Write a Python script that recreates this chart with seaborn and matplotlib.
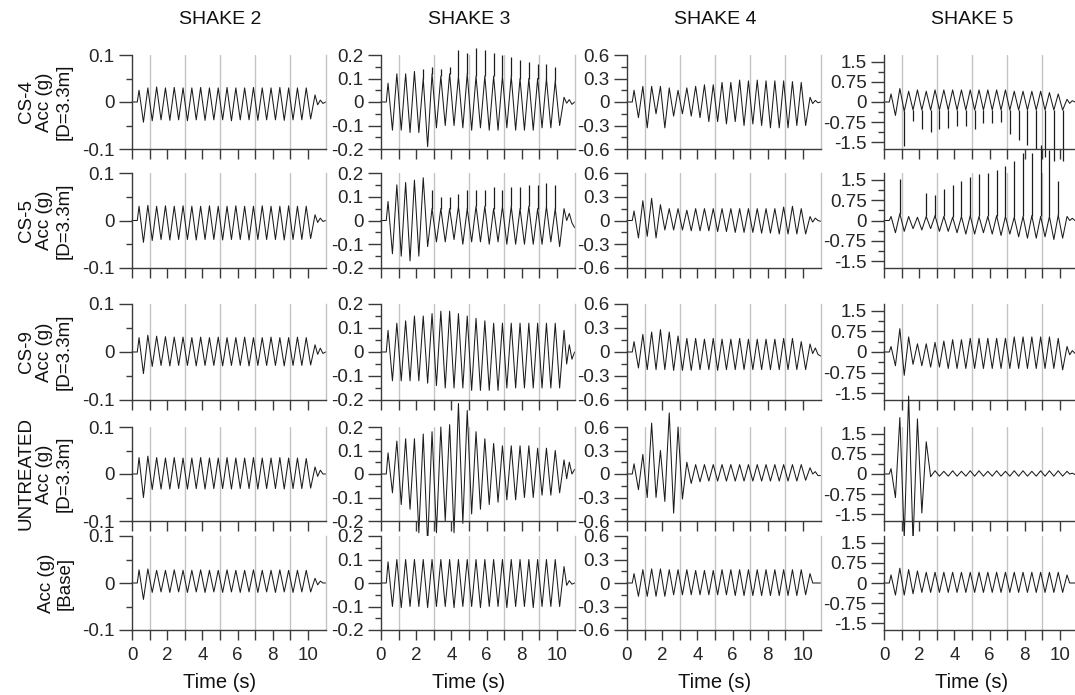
import numpy as np
import matplotlib
matplotlib.use("Agg")
import matplotlib.pyplot as plt
import matplotlib.transforms as mtransforms
from matplotlib.ticker import FixedLocator, FuncFormatter
import seaborn as sns

sns.set_theme(style="ticks")
plt.rcParams["font.family"] = ["Liberation Sans", "DejaVu Sans"]

# ---- time of each read-off point (s): onset, cycle peaks, cycle troughs, free decay
T_START = [0.0, 0.3]
T_PEAK = [0.4, 0.9, 1.4, 1.9, 2.4, 2.9, 3.4, 3.9, 4.4, 4.9,
          5.4, 5.9, 6.4, 6.9, 7.4, 7.9, 8.4, 8.9, 9.4, 9.9]
T_TROUGH = [0.65, 1.15, 1.65, 2.15, 2.65, 3.15, 3.65, 4.15, 4.65, 5.15,
            5.65, 6.15, 6.65, 7.15, 7.65, 8.15, 8.65, 9.15, 9.65, 10.15]
T_TAIL = [10.4, 10.55, 10.7, 10.85, 11.0]

# ---- CS-4 (D=3.3m)
CS4_S2_PK = [0.025, 0.030, 0.032, 0.030, 0.031, 0.030, 0.030, 0.031, 0.030, 0.030,
             0.031, 0.030, 0.030, 0.031, 0.030, 0.030, 0.031, 0.030, 0.030, 0.030]
CS4_S2_TR = [-0.043, -0.040, -0.038, -0.039, -0.038, -0.040, -0.038, -0.039, -0.038, -0.038,
             -0.040, -0.038, -0.038, -0.039, -0.038, -0.038, -0.039, -0.038, -0.038, -0.036]
CS4_S2_TL = [0.015, -0.006, 0.004, -0.003, 0.0]

CS4_S3_PK = [0.08, 0.12, 0.12, 0.13, 0.10, 0.12, 0.11, 0.12, 0.11, 0.12,
             0.11, 0.11, 0.11, 0.11, 0.11, 0.10, 0.10, 0.10, 0.10, 0.09]
CS4_S3_TR = [-0.12, -0.12, -0.13, -0.13, -0.19, -0.11, -0.10, -0.10, -0.11, -0.12,
             -0.11, -0.12, -0.12, -0.11, -0.12, -0.12, -0.12, -0.11, -0.11, -0.10]
CS4_S3_SP = [0, 0, 0, 0, 0.14, 0.15, 0.14, 0.15, 0.22, 0.21,
             0.23, 0.22, 0.21, 0.20, 0.19, 0.18, 0.17, 0.16, 0.16, 0.15]
CS4_S3_TL = [0.02, -0.005, 0.01, -0.01, 0.0]

CS4_S4_PK = [0.15, 0.20, 0.20, 0.20, 0.18, 0.15, 0.18, 0.20, 0.22, 0.22,
             0.25, 0.25, 0.28, 0.27, 0.28, 0.27, 0.27, 0.27, 0.26, 0.25]
CS4_S4_TR = [-0.20, -0.33, -0.15, -0.33, -0.18, -0.15, -0.18, -0.20, -0.25, -0.25,
             -0.28, -0.25, -0.30, -0.28, -0.30, -0.33, -0.33, -0.33, -0.30, -0.30]
CS4_S4_TL = [0.06, -0.02, 0.02, -0.01, 0.0]

CS4_S5_PK = [0.30, 0.50, 0.40, 0.45, 0.40, 0.45, 0.45, 0.45, 0.45, 0.45,
             0.45, 0.45, 0.45, 0.45, 0.40, 0.40, 0.40, 0.40, 0.35, 0.30]
CS4_S5_TR = [-0.50, -0.35, -0.30, -0.30, -0.30, -0.30, -0.30, -0.30, -0.30, -0.30,
             -0.30, -0.30, -0.30, -0.30, -0.30, -0.30, -0.30, -0.30, -0.30, -0.30]
CS4_S5_SP = [0, -1.65, -0.70, -1.00, -1.10, -1.00, -0.95, -0.90, -0.90, -1.00,
             -0.80, -0.80, -0.75, -1.20, -1.40, -1.60, -1.75, -2.05, -2.20, -2.20]
CS4_S5_TL = [0.10, -0.05, 0.05, 0.0, 0.0]

# ---- CS-5 (D=3.3m)
CS5_S2_PK = [0.030, 0.032, 0.030, 0.031, 0.030, 0.031, 0.030, 0.030, 0.031, 0.030,
             0.030, 0.031, 0.030, 0.030, 0.031, 0.030, 0.030, 0.031, 0.030, 0.030]
CS5_S2_TR = [-0.046, -0.042, -0.040, -0.041, -0.040, -0.040, -0.041, -0.040, -0.040, -0.041,
             -0.040, -0.040, -0.041, -0.040, -0.040, -0.040, -0.041, -0.040, -0.040, -0.038]
CS5_S2_TL = [0.012, -0.004, 0.005, -0.002, 0.0]

CS5_S3_PK = [0.08, 0.15, 0.16, 0.17, 0.18, 0.05, 0.05, 0.05, 0.06, 0.05,
             0.06, 0.06, 0.05, 0.06, 0.06, 0.05, 0.06, 0.05, 0.06, 0.05]
CS5_S3_TR = [-0.14, -0.15, -0.17, -0.15, -0.11, -0.09, -0.09, -0.08, -0.10, -0.09,
             -0.09, -0.10, -0.09, -0.10, -0.10, -0.10, -0.10, -0.10, -0.09, -0.11]
CS5_S3_SP = [0, 0, 0, 0, 0, 0.13, 0.10, 0.10, 0.11, 0.13,
             0.13, 0.13, 0.14, 0.13, 0.14, 0.14, 0.15, 0.15, 0.16, 0.15]
CS5_S3_TL = [0.05, 0.0, 0.03, -0.01, -0.03]

CS5_S4_PK = [0.12, 0.25, 0.28, 0.20, 0.15, 0.15, 0.13, 0.15, 0.15, 0.15,
             0.15, 0.15, 0.15, 0.15, 0.15, 0.15, 0.15, 0.17, 0.18, 0.15]
CS5_S4_TR = [-0.22, -0.20, -0.22, -0.12, -0.12, -0.12, -0.13, -0.13, -0.13, -0.14,
             -0.14, -0.15, -0.15, -0.15, -0.16, -0.16, -0.17, -0.17, -0.17, -0.17]
CS5_S4_TL = [0.05, -0.02, 0.03, 0.0, -0.01]

CS5_S5_PK = [0.15, 0.25, 0.15, 0.12, 0.15, 0.18, 0.15, 0.12, 0.15, 0.18,
             0.15, 0.15, 0.18, 0.15, 0.12, 0.15, 0.18, 0.15, 0.15, 0.20]
CS5_S5_TR = [-0.45, -0.40, -0.30, -0.35, -0.30, -0.40, -0.40, -0.45, -0.50, -0.50,
             -0.45, -0.50, -0.55, -0.50, -0.60, -0.65, -0.65, -0.60, -0.70, -0.65]
CS5_S5_SP = [0, 1.52, 0, 0, 1.00, 0.95, 1.15, 1.30, 1.45, 1.60,
             1.70, 1.75, 1.85, 2.00, 2.20, 2.50, 2.50, 2.80, 2.60, 1.45]
CS5_S5_TL = [0.15, 0.0, 0.08, 0.0, 0.05]

# ---- CS-9 (D=3.3m)
CS9_S2_PK = [0.030, 0.035, 0.033, 0.032, 0.031, 0.031, 0.030, 0.031, 0.030, 0.031,
             0.030, 0.030, 0.031, 0.030, 0.030, 0.031, 0.030, 0.030, 0.031, 0.030]
CS9_S2_TR = [-0.045, -0.030, -0.028, -0.029, -0.028, -0.028, -0.029, -0.028, -0.028, -0.029,
             -0.028, -0.028, -0.029, -0.028, -0.028, -0.028, -0.029, -0.028, -0.028, -0.027]
CS9_S2_TL = [0.015, -0.005, 0.008, -0.003, 0.0]

CS9_S3_PK = [0.09, 0.12, 0.13, 0.15, 0.15, 0.16, 0.17, 0.17, 0.16, 0.15,
             0.14, 0.13, 0.12, 0.12, 0.12, 0.12, 0.12, 0.12, 0.12, 0.12]
CS9_S3_TR = [-0.12, -0.12, -0.12, -0.12, -0.13, -0.14, -0.15, -0.15, -0.15, -0.16,
             -0.16, -0.16, -0.16, -0.15, -0.15, -0.15, -0.15, -0.15, -0.15, -0.15]
CS9_S3_TL = [0.09, -0.05, 0.03, -0.03, 0.0]

CS9_S4_PK = [0.13, 0.22, 0.25, 0.28, 0.25, 0.20, 0.17, 0.17, 0.16, 0.17,
             0.16, 0.16, 0.17, 0.16, 0.16, 0.16, 0.16, 0.17, 0.17, 0.13]
CS9_S4_TR = [-0.20, -0.22, -0.22, -0.22, -0.23, -0.23, -0.23, -0.22, -0.22, -0.23,
             -0.22, -0.22, -0.22, -0.22, -0.22, -0.22, -0.22, -0.22, -0.22, -0.22]
CS9_S4_TL = [0.10, -0.02, 0.05, -0.03, -0.05]

CS9_S5_PK = [0.20, 0.85, 0.55, 0.30, 0.30, 0.35, 0.40, 0.45, 0.45, 0.50,
             0.50, 0.50, 0.50, 0.50, 0.55, 0.55, 0.55, 0.55, 0.55, 0.50]
CS9_S5_TR = [-0.50, -0.85, -0.45, -0.50, -0.55, -0.55, -0.60, -0.60, -0.60, -0.60,
             -0.60, -0.60, -0.60, -0.60, -0.60, -0.60, -0.60, -0.60, -0.60, -0.65]
CS9_S5_TL = [0.20, -0.10, 0.05, -0.05, -0.10]

# ---- UNTREATED (D=3.3m)
UNT_S2_PK = [0.035, 0.038, 0.035, 0.034, 0.035, 0.034, 0.034, 0.035, 0.034, 0.034,
             0.035, 0.034, 0.034, 0.035, 0.034, 0.034, 0.035, 0.034, 0.034, 0.033]
UNT_S2_TR = [-0.050, -0.033, -0.032, -0.032, -0.031, -0.032, -0.031, -0.032, -0.031, -0.031,
             -0.032, -0.031, -0.031, -0.032, -0.031, -0.031, -0.032, -0.031, -0.031, -0.030]
UNT_S2_TL = [0.015, -0.005, 0.008, 0.0, 0.0]

UNT_S3_PK = [0.09, 0.14, 0.15, 0.15, 0.17, 0.18, 0.20, 0.21, 0.30, 0.27,
             0.18, 0.15, 0.13, 0.12, 0.12, 0.12, 0.12, 0.11, 0.11, 0.10]
UNT_S3_TR = [-0.08, -0.13, -0.15, -0.25, -0.30, -0.25, -0.20, -0.25, -0.21, -0.17,
             -0.15, -0.13, -0.12, -0.11, -0.11, -0.10, -0.10, -0.09, -0.09, -0.08]
UNT_S3_TL = [0.06, -0.02, 0.05, 0.0, 0.02]

UNT_S4_PK = [0.13, 0.25, 0.65, 0.30, 0.78, 0.60, 0.15, 0.12, 0.12, 0.12,
             0.12, 0.12, 0.12, 0.12, 0.12, 0.12, 0.12, 0.12, 0.12, 0.12]
UNT_S4_TR = [-0.20, -0.30, -0.30, -0.35, -0.50, -0.32, -0.12, -0.10, -0.09, -0.09,
             -0.09, -0.09, -0.09, -0.09, -0.09, -0.09, -0.09, -0.09, -0.09, -0.08]
UNT_S4_TL = [0.08, 0.0, 0.03, -0.02, -0.02]

UNT_S5_PK = [0.20, 2.10, 2.90, 2.05, 1.20, 0.12, 0.10, 0.12, 0.10, 0.12,
             0.12, 0.10, 0.12, 0.10, 0.12, 0.12, 0.10, 0.12, 0.12, 0.12]
UNT_S5_TR = [-0.88, -2.40, -2.55, -1.45, -0.10, -0.08, -0.08, -0.08, -0.08, -0.08,
             -0.08, -0.08, -0.08, -0.08, -0.08, -0.08, -0.08, -0.08, -0.08, -0.08]
UNT_S5_TL = [0.10, 0.0, 0.03, -0.02, 0.0]

# ---- Base input
BASE_S2_PK = [0.028, 0.030, 0.027, 0.027, 0.028, 0.027, 0.027, 0.028, 0.027, 0.027,
              0.028, 0.027, 0.027, 0.028, 0.027, 0.027, 0.028, 0.027, 0.027, 0.027]
BASE_S2_TR = [-0.035, -0.020, -0.019, -0.020, -0.019, -0.020, -0.019, -0.020, -0.019, -0.020,
              -0.019, -0.020, -0.019, -0.020, -0.019, -0.020, -0.019, -0.020, -0.019, -0.019]
BASE_S2_TL = [0.010, -0.004, 0.004, 0.0, 0.0]

BASE_S3_PK = [0.09, 0.10, 0.10, 0.10, 0.10, 0.10, 0.10, 0.10, 0.10, 0.10,
              0.10, 0.10, 0.10, 0.10, 0.10, 0.10, 0.10, 0.10, 0.10, 0.10]
BASE_S3_TR = [-0.10, -0.105, -0.10, -0.10, -0.105, -0.10, -0.10, -0.105, -0.10, -0.10,
              -0.105, -0.10, -0.10, -0.105, -0.10, -0.10, -0.105, -0.10, -0.10, -0.10]
BASE_S3_TL = [0.07, -0.01, 0.01, -0.005, 0.0]

BASE_S4_PK = [0.12, 0.17, 0.18, 0.18, 0.17, 0.17, 0.17, 0.16, 0.16, 0.16,
              0.17, 0.17, 0.17, 0.17, 0.17, 0.17, 0.17, 0.17, 0.17, 0.17]
BASE_S4_TR = [-0.17, -0.17, -0.17, -0.17, -0.15, -0.15, -0.15, -0.15, -0.15, -0.15,
              -0.15, -0.16, -0.16, -0.16, -0.16, -0.16, -0.16, -0.16, -0.16, -0.15]
BASE_S4_TL = [0.12, 0.0, 0.0, 0.0, 0.0]

BASE_S5_PK = [0.30, 0.55, 0.50, 0.45, 0.40, 0.40, 0.40, 0.40, 0.40, 0.40,
              0.40, 0.40, 0.40, 0.40, 0.40, 0.40, 0.40, 0.40, 0.40, 0.40]
BASE_S5_TR = [-0.45, -0.45, -0.40, -0.35, -0.35, -0.35, -0.35, -0.35, -0.35, -0.35,
              -0.35, -0.35, -0.35, -0.35, -0.35, -0.35, -0.35, -0.35, -0.35, -0.35]
BASE_S5_TL = [0.30, 0.0, 0.0, 0.0, 0.0]

COL_TITLES = ["SHAKE 2", "SHAKE 3", "SHAKE 4", "SHAKE 5"]
ROW_LABELS = ["CS-4\nAcc (g)\n[D=3.3m]", "CS-5\nAcc (g)\n[D=3.3m]",
              "CS-9\nAcc (g)\n[D=3.3m]", "UNTREATED\nAcc (g)\n[D=3.3m]",
              "Acc (g)\n[Base]"]
Y_LIMITS = [0.1, 0.2, 0.6, 1.75]
Y_MAJOR = [[-0.1, 0, 0.1], [-0.2, -0.1, 0, 0.1, 0.2],
           [-0.6, -0.3, 0, 0.3, 0.6], [-1.5, -0.75, 0, 0.75, 1.5]]
Y_MINOR = [[-0.05, 0.05], [-0.15, -0.05, 0.05, 0.15],
           [-0.45, -0.15, 0.15, 0.45], [-1.125, -0.375, 0.375, 1.125]]
X_MAJOR = [0, 2, 4, 6, 8, 10]
X_MINOR = [1, 3, 5, 7, 9]

PANELS = [
    [(CS4_S2_PK, CS4_S2_TR, CS4_S2_TL, None), (CS4_S3_PK, CS4_S3_TR, CS4_S3_TL, CS4_S3_SP),
     (CS4_S4_PK, CS4_S4_TR, CS4_S4_TL, None), (CS4_S5_PK, CS4_S5_TR, CS4_S5_TL, CS4_S5_SP)],
    [(CS5_S2_PK, CS5_S2_TR, CS5_S2_TL, None), (CS5_S3_PK, CS5_S3_TR, CS5_S3_TL, CS5_S3_SP),
     (CS5_S4_PK, CS5_S4_TR, CS5_S4_TL, None), (CS5_S5_PK, CS5_S5_TR, CS5_S5_TL, CS5_S5_SP)],
    [(CS9_S2_PK, CS9_S2_TR, CS9_S2_TL, None), (CS9_S3_PK, CS9_S3_TR, CS9_S3_TL, None),
     (CS9_S4_PK, CS9_S4_TR, CS9_S4_TL, None), (CS9_S5_PK, CS9_S5_TR, CS9_S5_TL, None)],
    [(UNT_S2_PK, UNT_S2_TR, UNT_S2_TL, None), (UNT_S3_PK, UNT_S3_TR, UNT_S3_TL, None),
     (UNT_S4_PK, UNT_S4_TR, UNT_S4_TL, None), (UNT_S5_PK, UNT_S5_TR, UNT_S5_TL, None)],
    [(BASE_S2_PK, BASE_S2_TR, BASE_S2_TL, None), (BASE_S3_PK, BASE_S3_TR, BASE_S3_TL, None),
     (BASE_S4_PK, BASE_S4_TR, BASE_S4_TL, None), (BASE_S5_PK, BASE_S5_TR, BASE_S5_TL, None)],
]

# layout in pixels of the 1075x695 canvas
W, H = 1075, 695
COL_X0 = [132, 381, 627, 884]      # pixel of t = 0
PX_PER_S = 17.6
COL_XMAX = [11.0, 11.0, 11.0, 10.85]
ROW_Y = [(55, 149), (173, 268), (304, 400), (427, 521), (536, 630)]

LINE_C = "#1c1c1c"
AXIS_C = "#3a3a3a"
GRID_C = "#c4c4c4"
FS = 13.5


def build_trace(pk, tr, tail):
    t = list(T_START)
    v = [0.0, 0.0]
    for tp, p, tt, q in zip(T_PEAK, pk, T_TROUGH, tr):
        t += [tp, tt]
        v += [p, q]
    return t + T_TAIL, v + list(tail)


fig = plt.figure(figsize=(W / 100, H / 100), dpi=100)
fmt = FuncFormatter(lambda val, pos: "%g" % val)

for r in range(5):
    top, bot = ROW_Y[r]
    for c in range(4):
        x0 = COL_X0[c]
        wpx = COL_XMAX[c] * PX_PER_S
        ax = fig.add_axes([x0 / W, 1 - bot / H, wpx / W, (bot - top) / H])
        pk, tr, tail, spk = PANELS[r][c]
        t, v = build_trace(pk, tr, tail)
        sns.lineplot(x=t, y=v, ax=ax, estimator=None, sort=False,
                     color=LINE_C, linewidth=0.75)
        if spk is not None:
            spk = np.array(spk, dtype=float)
            up = spk > 0
            dn = spk < 0
            ax.vlines(np.array(T_PEAK)[up], np.array(pk)[up], spk[up],
                      color=LINE_C, linewidth=0.9, clip_on=False)
            ax.vlines(np.array(T_TROUGH)[dn], np.array(tr)[dn], spk[dn],
                      color=LINE_C, linewidth=0.9, clip_on=False)
        for ln in ax.lines:
            ln.set_clip_on(False)

        lim = Y_LIMITS[c]
        ax.set_xlim(0, COL_XMAX[c])
        ax.set_ylim(-lim, lim)
        ax.yaxis.set_major_locator(FixedLocator(Y_MAJOR[c]))
        ax.yaxis.set_minor_locator(FixedLocator(Y_MINOR[c]))
        ax.yaxis.set_major_formatter(fmt)
        ax.xaxis.set_major_locator(FixedLocator(X_MAJOR))
        ax.xaxis.set_minor_locator(FixedLocator(X_MINOR))
        ax.xaxis.set_major_formatter(fmt)
        ax.xaxis.grid(True, which="minor", color=GRID_C, linewidth=1.0)
        ax.set_axisbelow(True)

        ax.spines["top"].set_visible(False)
        ax.spines["left"].set_color(AXIS_C)
        ax.spines["bottom"].set_color(AXIS_C)
        ax.spines["right"].set_color(GRID_C)
        for s in ("left", "bottom", "right"):
            ax.spines[s].set_linewidth(1.0)
        if c == 3:
            ax.spines["right"].set_visible(False)

        ax.tick_params(axis="x", which="both", direction="out", length=7,
                       width=1, color=AXIS_C, labelsize=FS, pad=5,
                       labelbottom=(r == 4), top=False)
        ax.tick_params(axis="y", which="major", direction="out", length=9.5,
                       width=1, color=AXIS_C, labelsize=FS, pad=3, right=False)
        ax.tick_params(axis="y", which="minor", direction="out", length=4,
                       width=1, color=AXIS_C, right=False)
        ax.set_xlabel("")
        ax.set_ylabel("")

        trans = mtransforms.blended_transform_factory(ax.transData, fig.transFigure)
        if r == 0:
            ax.text(5, 1 - 20 / H, COL_TITLES[c], transform=trans, ha="center",
                    va="center", fontsize=14, color="#111111")
        if r == 4:
            ax.text(5, 1 - 683 / H, "Time (s)", transform=trans, ha="center",
                    va="center", fontsize=14.5, color="#111111")

    # row label, three-line blocks are centred on the middle line
    lab = ROW_LABELS[r]
    xc = 45 if lab.count("\n") == 2 else 55.5
    fig.text(xc / W, 1 - (top + bot) / 2 / H, lab, rotation=90, ha="center",
             va="center", multialignment="center", fontsize=FS,
             color="#111111", linespacing=1.15)

fig.savefig("out.png", dpi=100)
